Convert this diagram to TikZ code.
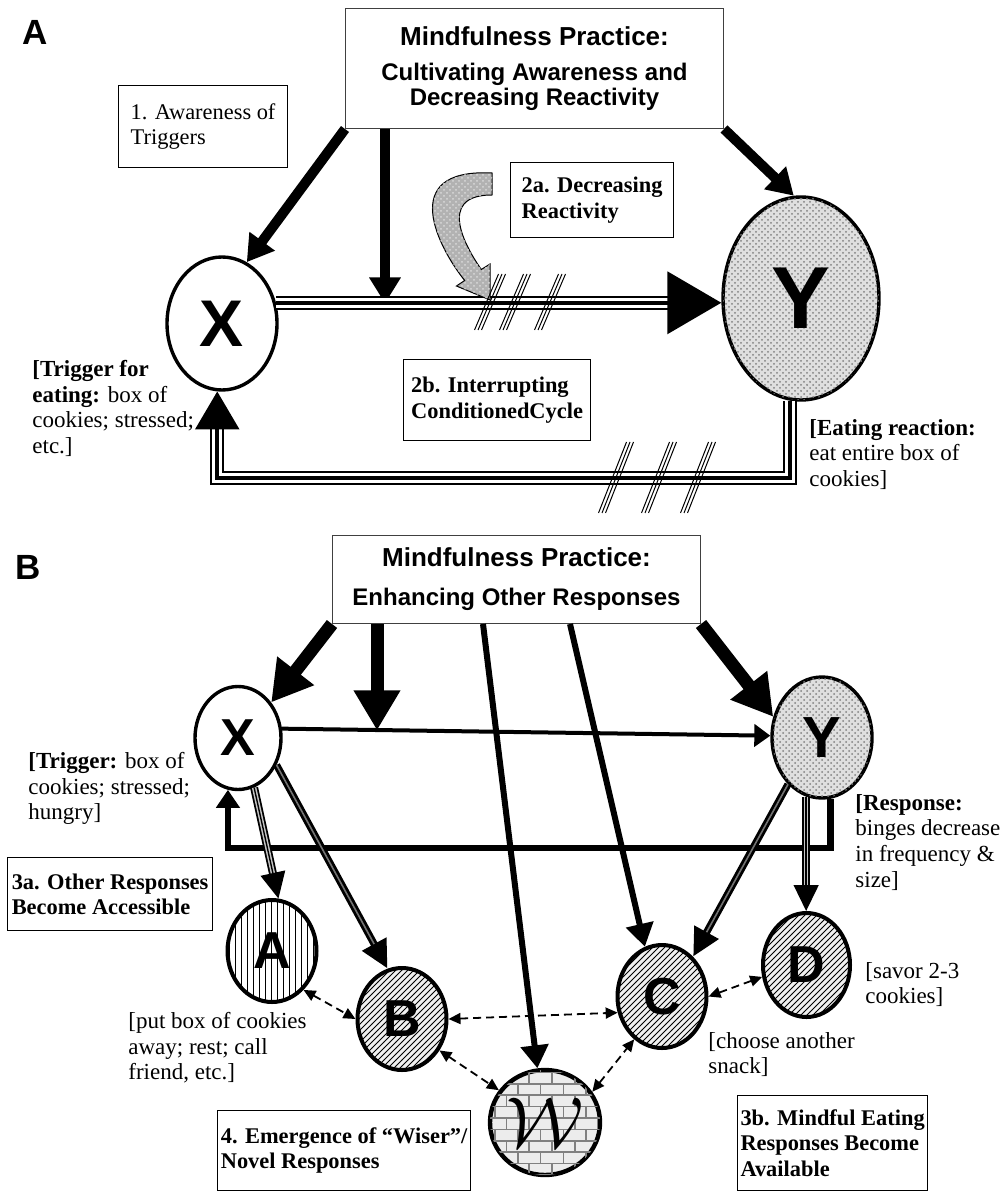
\documentclass[tikz,border=0pt]{standalone}
\usepackage{graphicx}
\usepackage{fontspec}
\setmainfont{Liberation Serif}
\setsansfont{Liberation Sans}
\usetikzlibrary{arrows.meta,patterns,shapes.geometric}
\tikzset{
  note/.style={anchor=north west, inner sep=0pt, align=left, font=\fontsize{11.5}{12.8}\selectfont},
  tag/.style={draw, line width=0.6pt, anchor=north west, inner sep=0pt, align=left, font=\bfseries\fontsize{11.2}{12.6}\selectfont},
  headbox/.style={draw=black!75, line width=0.5pt, anchor=north west, inner sep=0pt, align=center, font=\sffamily\bfseries\fontsize{12}{12.5}\selectfont},
  panel/.style={anchor=north west, inner sep=0pt, font=\sffamily\bfseries\fontsize{17.5}{17.5}\selectfont},
  blob/.style={ellipse, draw, line width=1.7pt, inner sep=0pt, font=\sffamily\bfseries\fontsize{#1}{#1}\selectfont},
  fatA/.style={line width=5pt, -{Triangle[length=13pt,width=15pt]}},
  fatB/.style={line width=6.5pt, -{Triangle[length=20pt,width=22pt]}},
  longarr/.style={line width=3pt, -{Triangle[length=11.5pt,width=13.5pt]}},
  triout/.style={double=white, double distance=5pt, line width=1.1pt},
  trimid/.style={line width=1.8pt, -{Triangle[length=#1,width=1.15*#1]}},
  dblout/.style={double=gray!45, double distance=2.2pt, line width=0.9pt, shorten >=12pt},
  dblmid/.style={line width=0.7pt, -{Triangle[length=13pt,width=12.5pt]}},
  hatcharr/.style={line width=3.6pt, -{Triangle[length=14pt,width=13pt]}},
  hatchin/.style={black!55, line width=0.8pt, shorten >=14pt},
  loopB/.style={line width=3.2pt, -{Triangle[length=9pt,width=11.5pt]}},
  both/.style={line width=0.9pt, dash pattern=on 4pt off 2.5pt, {Triangle[length=6pt,width=5.5pt]}-{Triangle[length=6pt,width=5.5pt]}},
  slash/.style={line width=0.5pt},
  curl/.style={fill=gray!60, draw=black, line width=0.5pt, postaction={pattern=crosshatch dots, pattern color=gray!30}}
}
\begin{document}
\begin{tikzpicture}[x=0.5pt, y=-0.5pt]
\useasboundingbox (0,0) rectangle (1005,1192);

\node[panel] (labA) at (22,20) {A};
\node[headbox, minimum width=189pt, minimum height=60pt] (boxA) at (345,8) {{\fontsize{13}{13}\selectfont Mindfulness Practice:}\\[5pt]Cultivating Awareness and\\Decreasing Reactivity};
\node[tag, font=\fontsize{11.2}{12.6}\selectfont, minimum width=84.5pt, minimum height=41pt] (aware) at (118,85) {1. Awareness of\\Triggers};
\node[tag, minimum width=81.5pt, minimum height=37.5pt] (decr) at (510,162) {2a. Decreasing\\Reactivity};
\node[tag, minimum width=93.5pt, minimum height=40.5pt] (interr) at (403,359) {2b. Interrupting\\ConditionedCycle};
\node[blob=33, minimum width=55pt, minimum height=66.5pt] (xA) at (222,323.5) {X};
\node[blob=44, fill=gray!25, postaction={pattern=crosshatch dots, pattern color=gray}, minimum width=78pt, minimum height=101.5pt] (yA) at (801,298.5) {Y};
\node[note] (trigA) at (32,360) {\textbf{[Trigger for}\\\textbf{eating:} box of\\cookies; stressed;\\etc.]};
\node[note] (reactA) at (809,419) {\textbf{[Eating reaction:}\\eat entire box of\\cookies]};
\coordinate (hitA) at (385,303.5);

\draw[fatA] (boxA.south west) -- (xA.68);
\draw[fatA] (hitA |- boxA.south) -- (hitA);
\draw[fatA] (boxA.south east) -- (yA.94);
\draw[triout, shorten >=26pt] (xA.21) -- (xA.21 -| yA.west);
\draw[trimid=27pt] (xA.21) -- (xA.21 -| yA.west);
\draw[triout, shorten >=19pt] (yA.-96) -- ++(0,77) -| (xA.-94);
\draw[trimid=19pt] (yA.-96) -- ++(0,77) -| (xA.-94);
\draw[curl] (492,173) .. controls (395,168) and (440,250) .. (464.7,280.5) -- (456.4,286) -- (490,300) -- (490,264) -- (481.3,269.5) .. controls (467,249) and (435,195) .. (492,195) -- cycle;
\foreach \sx in {490,515,550}
  \foreach \k in {-1,0,1}
    \draw[slash] ({\sx+\k*3.5-12},330) -- ({\sx+\k*3.5+12},274);
\foreach \sx in {616,659,698}
  \foreach \k in {-1,0,1}
    \draw[slash] ({\sx+\k*3.5-14},513) -- ({\sx+\k*3.5+14},442);

\node[panel] (labB) at (15,555) {B};
\node[headbox, minimum width=184pt, minimum height=44pt] (boxB) at (332,535) {{\fontsize{13}{13}\selectfont Mindfulness Practice:}\\[7pt]Enhancing Other Responses};
\node[blob=26, minimum width=43pt, minimum height=51.5pt] (xB) at (238,738) {X};
\node[blob=29, fill=gray!25, postaction={pattern=crosshatch dots, pattern color=gray}, minimum width=50pt, minimum height=60.5pt] (yB) at (822,737.5) {Y};
\node[blob=26, line width=2pt, pattern=vertical lines, minimum width=44.5pt, minimum height=51pt] (aB) at (272,951) {A};
\node[blob=26, line width=2pt, fill=gray!12, postaction={pattern=north east lines}, minimum width=44.5pt, minimum height=51pt] (bB) at (402,1019) {B};
\node[blob=26, line width=2pt, fill=gray!12, postaction={pattern=north east lines}, minimum width=44.5pt, minimum height=51.5pt] (cB) at (662,996.5) {C};
\node[blob=26, line width=2pt, fill=gray!12, postaction={pattern=north east lines}, minimum width=43.5pt, minimum height=52pt] (dB) at (806.5,965) {D};
\node[blob=24, line width=2.2pt, fill=gray!15, postaction={pattern=bricks, pattern color=gray}, minimum width=55pt, minimum height=52.5pt] (wB) at (545,1122.5) {\scalebox{1.45}{$\mathcal{W}$}};
\node[note] (trigB) at (28,752) {\textbf{[Trigger:} box of\\cookies; stressed;\\hungry]};
\node[note] (respB) at (855,794) {\textbf{[Response:}\\binges decrease\\in frequency \&\\size]};
\node[note] (putB) at (128,1012) {[put box of cookies\\away; rest; call\\friend, etc.]};
\node[note] (chooseB) at (708,1032) {[choose another\\snack]};
\node[note] (savorB) at (865,962) {[savor 2-3\\cookies]};
\node[tag, minimum width=102.5pt, minimum height=36.5pt] (othr) at (7,857) {3a. Other Responses\\Become Accessible};
\node[tag, minimum width=126.5pt, minimum height=40pt] (emerg) at (217,1110) {4. Emergence of “Wiser”/\\Novel Responses};
\node[tag, minimum width=95pt, minimum height=47.5pt] (mindf) at (737,1095) {3b. Mindful Eating\\Responses Become\\Available};
\coordinate (hitB) at (377,730.4);

\draw[fatB] (boxB.south west) -- (xB.47);
\draw[fatB] (hitB |- boxB.south) -- (hitB);
\draw[fatB] (boxB.south east) -- (yB.157);
\draw[line width=2pt, -{Triangle[length=8pt,width=11pt]}] (xB.12) -- (yB.178);
\draw[longarr] ([xshift=75.5pt]boxB.south west) -- (wB.98);
\draw[longarr] ([xshift=119pt]boxB.south west) -- (cB.109);
\draw[loopB] (yB.-82) -- ++(0,49) -| (xB.-101);
\draw[dblout] (xB.-72) -- (aB.83);
\draw[dblmid] (xB.-72) -- (aB.83);
\draw[dblout] (yB.-105) -- (yB.-105 |- dB.north);
\draw[dblmid] (yB.-105) -- (yB.-105 |- dB.north);
\draw[hatcharr] (xB.-35) -- (bB.106);
\draw[hatchin] (xB.-35) -- (bB.106);
\draw[hatcharr] (yB.-126) -- (cB.52);
\draw[hatchin] (yB.-126) -- (cB.52);
\draw[both] (aB.-51) -- (bB.west);
\draw[both] (bB.east) -- (cB.-160);
\draw[both] (bB.-40) -- (wB.145);
\draw[both] (wB.33) -- (cB.-123);
\draw[both] (cB.east) -- (dB.-165);
\end{tikzpicture}
\end{document}
